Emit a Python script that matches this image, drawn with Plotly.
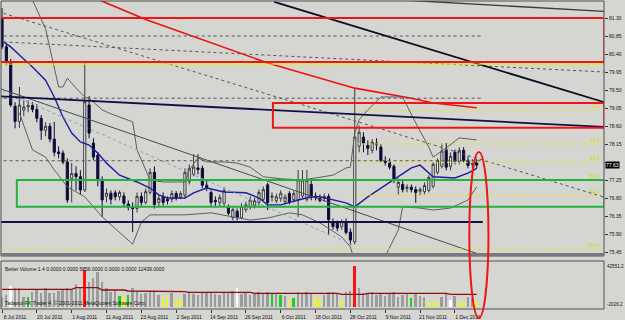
import plotly.graph_objects as go

# ---------------- data ----------------
bar_index = list(range(110))
date_tick_bars = [0, 8, 16, 24, 32, 40, 48, 56, 64, 72, 80, 88, 96, 104]
date_tick_labels = ["8 Jul 2011", "20 Jul 2011", "1 Aug 2011", "11 Aug 2011", "23 Aug 2011",
                    "2 Sep 2011", "14 Sep 2011", "26 Sep 2011", "6 Oct 2011", "18 Oct 2011",
                    "28 Oct 2011", "9 Nov 2011", "21 Nov 2011", "1 Dec 2011"]
price_ticks = [75.45, 75.90, 76.35, 76.80, 77.25, 77.70, 78.15, 78.60, 79.05, 79.50,
               79.95, 80.40, 80.85, 81.30]
price_tick_labels = ["75.45", "75.90", "76.35", "76.80", "77.25", "", "78.15", "78.60", "79.05",
                     "79.50", "79.95", "80.40", "80.85", "81.30"]

open_p = [81.28, 80.58, 80.20, 79.10, 78.72, 79.00, 79.08, 79.12, 79.02, 78.80,
          78.50, 78.60, 78.28, 77.96, 77.93, 77.71, 77.30, 77.42, 77.34, 77.01,
          79.13, 78.18, 77.88, 77.26, 76.85, 76.93, 76.94, 76.84, 76.86, 76.66,
          76.58, 76.55, 76.85, 76.70, 76.95, 77.45, 76.70, 76.84, 76.78, 76.78,
          76.92, 76.84, 76.88, 77.22, 77.40, 77.56, 77.55, 77.13, 76.95, 76.75,
          76.70, 76.68, 76.58, 76.32, 76.48, 76.32, 76.52, 76.58, 76.63, 76.70,
          76.78, 77.14, 76.83, 76.74, 76.80, 76.72, 76.92, 76.77, 76.76, 76.86,
          76.78, 77.15, 76.86, 76.80, 76.80, 76.85, 76.22, 76.18, 76.10, 76.22,
          75.96, 75.72, 78.10, 78.33, 78.12, 78.00, 78.18, 78.08, 77.73, 77.70,
          77.60, 77.08, 77.15, 77.05, 77.08, 77.02, 76.98, 76.97, 77.00, 77.10,
          77.45, 77.60, 78.00, 77.60, 77.95, 77.72, 78.00, 77.75, 77.65, 77.70]
high_p = [81.55, 80.68, 80.28, 79.20, 79.58, 79.25, 79.25, 79.20, 79.15, 78.88,
          78.70, 78.68, 78.71, 78.10, 78.00, 77.80, 77.68, 77.60, 77.50, 80.18,
          79.35, 78.30, 77.95, 77.35, 77.05, 77.00, 77.00, 77.00, 76.95, 76.75,
          76.70, 76.95, 76.95, 77.05, 77.55, 77.60, 76.90, 76.95, 76.85, 77.00,
          76.98, 76.98, 77.55, 77.65, 77.90, 77.90, 77.62, 77.25, 77.00, 76.85,
          76.90, 77.08, 76.65, 76.58, 76.55, 76.68, 76.72, 76.85, 76.82, 77.02,
          77.10, 77.19, 76.95, 76.92, 77.00, 76.90, 76.98, 76.98, 77.51, 77.51,
          77.51, 77.25, 76.95, 76.90, 76.92, 76.92, 76.30, 76.25, 76.28, 76.30,
          76.05, 79.55, 78.62, 78.45, 78.25, 78.28, 78.30, 78.15, 77.85, 77.80,
          77.65, 77.30, 77.25, 77.15, 77.15, 77.10, 77.08, 77.20, 77.38, 77.70,
          77.80, 78.18, 78.18, 77.95, 78.02, 78.08, 78.08, 77.85, 77.78, 77.78]
low_p = [80.52, 80.12, 79.08, 78.55, 78.56, 78.85, 78.95, 78.95, 78.70, 78.26,
         78.35, 78.20, 77.85, 77.80, 77.65, 76.69, 76.70, 77.00, 76.90, 76.96,
         78.30, 77.75, 77.10, 76.34, 76.70, 76.65, 76.75, 76.75, 76.60, 76.50,
         75.96, 76.45, 76.62, 76.65, 76.90, 76.55, 76.60, 76.62, 76.65, 76.70,
         76.75, 76.78, 76.80, 77.15, 77.35, 77.40, 77.05, 76.98, 76.62, 76.60,
         76.60, 76.60, 76.38, 76.25, 76.25, 76.28, 76.45, 76.52, 76.55, 76.62,
         76.72, 76.51, 76.72, 76.68, 76.72, 76.65, 76.65, 76.70, 76.34, 76.80,
         76.72, 76.75, 76.75, 76.70, 76.72, 75.89, 76.02, 75.98, 76.02, 75.90,
         75.64, 75.65, 77.95, 77.95, 77.88, 77.92, 78.00, 77.70, 77.62, 77.52,
         77.18, 76.90, 76.95, 76.95, 76.95, 76.69, 76.88, 76.90, 76.95, 77.05,
         77.40, 77.55, 77.50, 77.50, 77.65, 77.65, 77.70, 77.55, 77.55, 77.55]
close_p = [80.58, 80.20, 79.13, 78.72, 79.13, 79.08, 79.12, 79.02, 78.80, 78.50,
           78.60, 78.28, 77.95, 77.92, 77.71, 76.76, 77.42, 77.34, 77.01, 79.21,
           78.43, 77.83, 77.26, 76.76, 76.93, 76.78, 76.84, 76.95, 76.68, 76.58,
           76.55, 76.85, 76.70, 76.97, 77.45, 76.65, 76.80, 76.70, 76.74, 76.92,
           76.80, 76.92, 77.45, 77.55, 77.58, 77.52, 77.13, 77.05, 76.70, 76.72,
           76.82, 77.00, 76.43, 76.52, 76.32, 76.60, 76.64, 76.76, 76.74, 76.95,
           77.02, 76.70, 76.86, 76.84, 76.93, 76.83, 76.72, 76.92, 77.26, 77.26,
           77.25, 76.82, 76.82, 76.75, 76.85, 76.27, 76.10, 76.06, 76.22, 75.95,
           75.76, 78.33, 78.45, 78.18, 78.05, 78.20, 78.14, 77.75, 77.70, 77.58,
           77.25, 77.20, 77.02, 77.08, 77.02, 76.95, 77.02, 77.12, 77.32, 77.65,
           77.75, 77.98, 77.58, 77.85, 77.72, 78.00, 77.75, 77.62, 77.68, 77.63]

volume = [9420, 10970, 19330, 17160, 17160, 9420, 8800, 13450, 15620, 12520,
          17160, 13140, 12520, 14690, 15620, 17160, 15620, 20880, 17160, 34190,
          23360, 27070, 32640, 23360, 17160, 14070, 15620, 10040, 9420, 10970,
          17160, 13450, 11590, 12520, 13450, 14690, 10970, 9420, 9420, 12520,
          7260, 7260, 11590, 13450, 12210, 10970, 14070, 12520, 13140, 11590,
          10970, 13450, 14070, 14690, 17160, 11590, 12520, 10970, 11590, 13450,
          12520, 14070, 13140, 11590, 10970, 10350, 6330, 7880, 13450, 12520,
          14070, 11590, 9420, 6330, 10970, 14070, 13450, 11590, 6330, 13450,
          14690, 37910, 17160, 12520, 11590, 13450, 10970, 12520, 10350, 11590,
          13450, 9420, 10970, 11590, 8490, 11590, 10350, 9420, 4780, 4780,
          4780, 9420, 11590, 6330, 10350, 4780, 4780, 9420, 7880, 4780]
vol_white_bars = [2, 54, 103]
vol_green_bars = [6, 27, 29, 62, 64, 67, 94]
vol_yellow_bars = [28, 37, 38, 40, 41, 66, 72, 73, 78, 98, 99, 100, 105, 106, 109]
vol_red_bars = [19, 81]

vol_ma_bars = [0, 16, 17, 22, 23, 28, 29, 39, 40, 42, 43, 57, 58, 77, 78, 83, 84, 102, 103, 109]
vol_ma_vals = [16270, 16270, 17750, 17750, 15620, 15620, 14690, 14690, 14040, 14040,
               13480, 13480, 12560, 12560, 11630, 11630, 12560, 12560, 11630, 11630]

ma_bars = [0, 2, 4, 7, 10, 12, 14, 16, 18, 20, 22, 24, 27, 31, 34, 36, 38, 42, 44, 47,
           49, 51, 56, 59, 61, 64, 68, 71, 73, 76, 79, 80, 81, 84, 87, 90, 94, 96,
           99, 104, 107, 109]
ma_vals = [80.73, 80.58, 80.38, 80.08, 79.75, 79.33, 78.83, 78.43, 78.21, 78.13,
           77.93, 77.68, 77.38, 77.21, 77.06, 76.89, 76.81, 76.81, 76.94, 77.06,
           77.01, 76.96, 76.94, 76.81, 76.64, 76.64, 76.76, 76.84, 76.84, 76.76,
           76.69, 76.64, 76.59, 76.84, 77.06, 77.26, 77.56, 77.63, 77.34, 77.31,
           77.43, 77.55]

bb_up_bars = [4, 7, 10, 13, 14, 15, 17, 19, 20, 23, 25, 27, 30, 31, 34, 37, 42, 43, 45,
              47, 51, 54, 57, 60, 64, 69, 72, 76, 79, 80, 81, 82, 84, 87, 92, 95, 98,
              99, 102, 105, 109]
bb_up_vals = [82.25, 81.75, 81.03, 79.58, 79.58, 79.80, 79.55, 79.33, 79.30, 79.01,
              78.91, 78.83, 78.71, 78.01, 77.26, 77.21, 77.21, 77.51, 77.81, 77.71,
              77.71, 77.68, 77.58, 77.34, 77.29, 77.26, 77.31, 77.38, 77.56, 77.58,
              78.43, 78.76, 79.01, 79.33, 79.33, 78.68, 78.08, 77.83, 78.06, 78.31,
              78.26]
bb_lo_bars = [4, 7, 10, 12, 15, 19, 23, 27, 30, 32, 34, 42, 48, 53, 57, 61, 66, 69, 73,
              78, 80, 81, 84, 87, 91, 92, 96, 99, 103, 107, 109]
bb_lo_vals = [78.93, 78.01, 77.83, 77.51, 77.09, 76.84, 76.34, 75.94, 75.66, 76.21,
              76.39, 76.39, 76.44, 76.34, 76.26, 76.31, 76.44, 76.39, 76.19, 75.84,
              75.59, 75.21, 74.89, 75.14, 76.01, 76.59, 76.56, 76.51, 76.56, 76.76,
              77.09]

red_ma_bars = [21, 23, 33, 48, 61, 81, 94, 99, 109]
red_ma_vals = [81.80, 81.72, 81.26, 80.68, 80.18, 79.55, 79.30, 79.18, 79.06]

# drawn objects (bar, price anchors)
black_tl_bars = [62.5, 138.9]
black_tl_vals = [81.70, 79.18]
top_tl_bars = [91.6, 138.9]
top_tl_vals = [81.75, 81.46]
navy_tl_bars = [-1.0, 138.9]
navy_tl_vals = [79.35, 78.58]
gray_tl_bars = [-1.0, 110.0]
gray_tl_vals = [79.56, 75.39]
blue_dot_bars = [-1.0, 80.6]
blue_dot_vals = [79.54, 75.64]
dot_a_bars = [-1.0, 138.9]
dot_a_vals = [81.46, 76.81]
dot_b_bars = [-1.0, 138.9]
dot_b_vals = [80.71, 79.95]
hdot_levels = [80.85, 79.30, 77.74]
hdot_end_bar = 110.4
navy_h_level = 76.21
yellow_h_level = 80.15

fib_levels = [79.00, 78.16, 77.70, 77.27, 76.88, 75.54]
fib_labels = ["0.0", "23.6", "38.2", "50.0", "61.8", "100.0"]
fib_start_bars = [81.5, 81.5, 81.5, 81.5, 81.5, -1.0]

red_boxes_bars = [(-1.0, 138.3), (62.2, 138.3)]
red_boxes_vals = [(80.20, 81.30), (78.56, 79.18)]
green_box_bars = (3.4, 138.3)
green_box_vals = (76.59, 77.26)
last_price = 77.63

# ---------------- figure ----------------
BG = "#d5d5d2"
FONT = "Liberation Sans"
fig = go.Figure()

def line(xs, ys, color, width=1.0, dash="solid", yaxis="y"):
    fig.add_trace(go.Scatter(x=xs, y=ys, mode="lines", yaxis=yaxis, hoverinfo="skip",
                             line=dict(color=color, width=width, dash=dash), showlegend=False))

# Bollinger bands (under candles)
line(bb_up_bars, bb_up_vals, "#5e5e5e", 1)
line(bb_lo_bars, bb_lo_vals, "#5e5e5e", 1)

fig.add_trace(go.Candlestick(
    x=bar_index, open=open_p, high=high_p, low=low_p, close=close_p,
    increasing=dict(line=dict(color="#3a3a3a", width=1), fillcolor="#f2f2f2"),
    decreasing=dict(line=dict(color="#0b0b38", width=1), fillcolor="#0b0b38"),
    whiskerwidth=0, showlegend=False, hoverinfo="skip"))

line(ma_bars, ma_vals, "#1c1ca8", 1.4)
line(red_ma_bars, red_ma_vals, "#ee1111", 1.6)

# trend lines / chart objects
line(dot_a_bars, dot_a_vals, "#555555", 1, "dot")
line(dot_b_bars, dot_b_vals, "#555555", 1, "dot")
for lv in hdot_levels:
    line([-1.0, hdot_end_bar], [lv, lv], "#555555", 1, "dot")
line(blue_dot_bars, blue_dot_vals, "#7fa6c6", 1, "dot")
line(gray_tl_bars, gray_tl_vals, "#4a4a4a", 1)
line(black_tl_bars, black_tl_vals, "#0c0c1e", 1.8)
line(top_tl_bars, top_tl_vals, "#3a3a3a", 1.4)
line(navy_tl_bars, navy_tl_vals, "#101048", 1.8)
line([-1.0, hdot_end_bar], [navy_h_level, navy_h_level], "#101048", 2)
line([-1.0, 138.9], [yellow_h_level, yellow_h_level], "#eaea10", 1)
for lv, sb in zip(fib_levels, fib_start_bars):
    line([sb, 138.9], [lv, lv], "#e6e612", 1, "dot")

# volume
vol_colors = []
for i in bar_index:
    c = "#9c9c9c"
    if i in vol_white_bars:
        c = "#ffffff"
    if i in vol_green_bars:
        c = "#1fcc1f"
    if i in vol_yellow_bars:
        c = "#f0f030"
    if i in vol_red_bars:
        c = "#ff1010"
    vol_colors.append(c)
fig.add_trace(go.Bar(x=bar_index, y=volume, yaxis="y2", marker=dict(color=vol_colors, line_width=0),
                     width=0.45, showlegend=False, hoverinfo="skip"))
line(vol_ma_bars, vol_ma_vals, "#8b0f0f", 1.3, yaxis="y2")

shapes = []
for (bx0, bx1), (py0, py1) in zip(red_boxes_bars, red_boxes_vals):
    shapes.append(dict(type="rect", xref="x", yref="y", x0=bx0, x1=bx1, y0=py0, y1=py1,
                       line=dict(color="#f01414", width=2), layer="above"))
shapes.append(dict(type="rect", xref="x", yref="y", x0=green_box_bars[0], x1=green_box_bars[1],
                   y0=green_box_vals[0], y1=green_box_vals[1],
                   line=dict(color="#22b33c", width=2), layer="above"))
# panel frames
shapes.append(dict(type="rect", xref="paper", yref="y domain", x0=0, x1=1, y0=0, y1=1,
                   line=dict(color="#505050", width=1)))
shapes.append(dict(type="rect", xref="paper", yref="y domain", x0=0, x1=1, y0=0, y1=0.012,
                   line=dict(width=0), fillcolor="#7a7a7a"))
shapes.append(dict(type="rect", xref="paper", yref="y2 domain", x0=0, x1=1, y0=0, y1=1,
                   line=dict(color="#505050", width=1)))
# red ellipse
shapes.append(dict(type="circle", xref="x", yref="paper", x0=107.3, x1=111.7, y0=-0.029, y1=0.51,
                   line=dict(color="#f01414", width=2), layer="above"))

annotations = []
for lv, lab in zip(fib_levels, fib_labels):
    annotations.append(dict(x=0.997, xref="paper", y=lv, yref="y", text=lab, showarrow=False,
                            xanchor="right", yanchor="bottom", yshift=-1,
                            font=dict(family=FONT, size=5, color="#d8d800")))
annotations.append(dict(x=1, xref="paper", y=last_price, yref="y", text=f"{last_price:.2f}",
                        showarrow=False, xanchor="left", xshift=1, bgcolor="#000000",
                        borderpad=0, font=dict(family=FONT, size=5, color="#ffffff")))
annotations.append(dict(x=0.004, xref="paper", y=1, yref="y2 domain", yshift=-3,
                        text="Better Volume 1.4 0.0000 0.0000 5856.0000 0.0000 0.0000 12439.0000",
                        showarrow=False, xanchor="left", yanchor="top",
                        font=dict(family=FONT, size=5, color="#111111")))
annotations.append(dict(x=0.004, xref="paper", y=0, yref="y2 domain", yshift=1,
                        text="Tadawul FX Trader 4, © 2001-2011 MetaQuotes Software Corp.",
                        showarrow=False, xanchor="left", yanchor="bottom",
                        font=dict(family=FONT, size=5, color="#111111")))
annotations.append(dict(x=1, xref="paper", y=1, yref="y2 domain", text="42551.2", showarrow=False,
                        xanchor="left", yanchor="top", xshift=1, yshift=-1,
                        font=dict(family=FONT, size=4.6, color="#111111")))
annotations.append(dict(x=1, xref="paper", y=0, yref="y2 domain", text="-2026.2", showarrow=False,
                        xanchor="left", yanchor="bottom", xshift=1,
                        font=dict(family=FONT, size=4.6, color="#111111")))

fig.update_layout(
    width=625, height=320, margin=dict(l=1, r=21, t=1, b=11),
    paper_bgcolor=BG, plot_bgcolor=BG, showlegend=False, bargap=0,
    font=dict(family=FONT, size=5, color="#111111"),
    xaxis=dict(range=[-0.23, 138.23], anchor="y2", showgrid=False, zeroline=False,
               tickvals=date_tick_bars, ticktext=date_tick_labels, ticks="outside",
               ticklen=3, tickcolor="#333333", tickfont=dict(size=5), ticklabelshift=13,
               rangeslider=dict(visible=False), showline=False),
    yaxis=dict(domain=[0.1721, 1], range=[75.364, 81.724], side="right", showgrid=False,
               zeroline=False, tickvals=price_ticks, ticktext=price_tick_labels,
               ticks="outside", ticklen=3, tickcolor="#333333", tickfont=dict(size=5)),
    yaxis2=dict(domain=[0, 0.1558], range=[-2026.2, 42551.2], side="right", showgrid=False,
                zeroline=False, showticklabels=False, ticks=""),
    shapes=shapes, annotations=annotations,
)
fig.write_html("out.html")
